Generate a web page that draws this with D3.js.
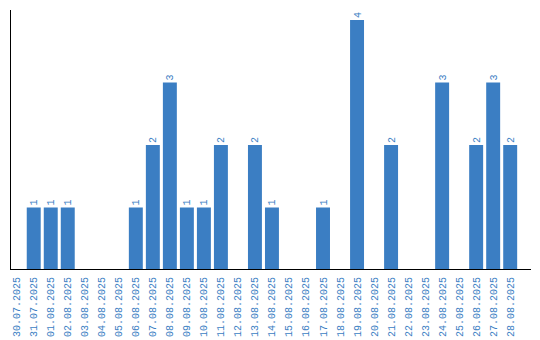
<!DOCTYPE html>
<html>
<head>
<meta charset="utf-8">
<script src="https://cdn.jsdelivr.net/npm/d3@7"></script>
<style>
  body { margin: 0; background: #fff; }
  text { font-family: "Liberation Mono", monospace; font-size: 10px; }
</style>
</head>
<body>
<svg class="dayChart"></svg>
<script>
// days and counts
var days = ["30.07.2025","31.07.2025","01.08.2025","02.08.2025","03.08.2025","04.08.2025",
  "05.08.2025","06.08.2025","07.08.2025","08.08.2025","09.08.2025","10.08.2025","11.08.2025",
  "12.08.2025","13.08.2025","14.08.2025","15.08.2025","16.08.2025","17.08.2025","18.08.2025",
  "19.08.2025","20.08.2025","21.08.2025","22.08.2025","23.08.2025","24.08.2025","25.08.2025",
  "26.08.2025","27.08.2025","28.08.2025"];
var counts = [0,1,1,1,0,0,0,1,2,3,1,1,2,0,2,1,0,0,1,0,4,0,2,0,0,3,0,2,3,2];

var svgWidth = 540, svgHeight = 340;
var blue = "#3b7ec3";

var svg = d3.select("svg.dayChart")
  .attr("width", svgWidth)
  .attr("height", svgHeight);

var x = d3.scaleBand()
  .domain(days)
  .range([8.2, 518.7])
  .paddingInner(0.18)
  .paddingOuter(0.09);

var y = d3.scaleLinear()
  .domain([0, 4])
  .range([270, 20]);

var data = days.map(function(d, i) { return {day: d, count: counts[i]}; });

// bars
svg.append("g")
  .selectAll("rect")
  .data(data.filter(function(d) { return d.count > 0; }))
  .enter().append("rect")
    .attr("x", function(d) { return x(d.day); })
    .attr("y", function(d) { return y(d.count); })
    .attr("width", x.bandwidth())
    .attr("height", function(d) { return y(0) - y(d.count); })
    .attr("fill", blue);

// value labels, turned on their side
svg.append("g")
  .selectAll("text")
  .data(data.filter(function(d) { return d.count > 0; }))
  .enter().append("text")
    .attr("transform", function(d) {
      return "translate(" + (x(d.day) + x.bandwidth() / 2 + 3.5) + "," + (y(d.count) - 2) + ") rotate(-90)";
    })
    .attr("text-anchor", "start")
    .attr("fill", blue)
    .text(function(d) { return d.count; });

// date labels
svg.append("g")
  .selectAll("text")
  .data(days)
  .enter().append("text")
    .attr("transform", function(d) {
      return "translate(" + (x(d) + x.bandwidth() / 2 + 3.5) + ",277) rotate(-90)";
    })
    .attr("text-anchor", "end")
    .attr("fill", blue)
    .text(function(d) { return d; });

// axis lines
svg.append("line")
  .attr("x1", 10.5).attr("x2", 10.5)
  .attr("y1", 10).attr("y2", 270)
  .attr("stroke", "#000");
svg.append("line")
  .attr("x1", 10).attr("x2", 531)
  .attr("y1", 269.5).attr("y2", 269.5)
  .attr("stroke", "#000");
</script>
</body>
</html>
